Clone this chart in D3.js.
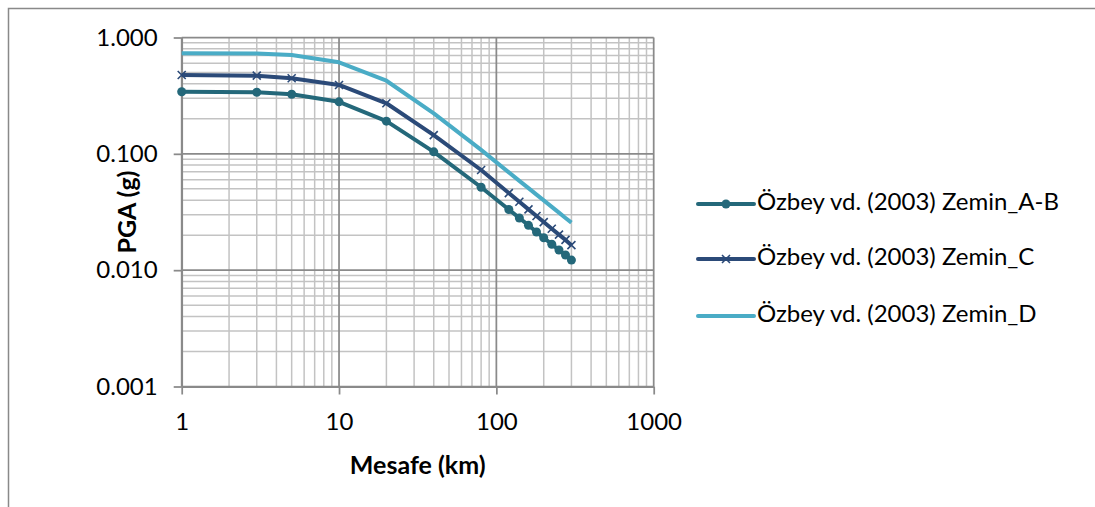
<!DOCTYPE html>
<html>
<head>
<meta charset="utf-8">
<script src="https://cdn.jsdelivr.net/npm/d3@7"></script>
<style>
  body { margin: 0; background: #fff; }
  svg text { font-family: Lato, "Open Sans", sans-serif; fill: #000; }
</style>
</head>
<body>
<div id="chart"></div>
<script>
// distances (km) and PGA (g)
const distances = [1, 3, 5, 10, 20, 40, 80, 120, 140, 160, 180, 200, 225, 250, 275, 300];
const zeminAB = [0.342, 0.338, 0.325, 0.280, 0.191, 0.104, 0.0516, 0.0332, 0.0281, 0.0243, 0.0213, 0.0190, 0.0167, 0.0149, 0.0135, 0.0122];
const zeminC  = [0.476, 0.470, 0.446, 0.391, 0.272, 0.145, 0.0726, 0.0460, 0.0387, 0.0333, 0.0292, 0.0259, 0.0227, 0.0202, 0.0182, 0.0164];
const zeminD  = [0.731, 0.728, 0.707, 0.612, 0.425, 0.223, 0.108, 0.0693, 0.0586, 0.0507, 0.0446, 0.0398, 0.0350, 0.0312, 0.0281, 0.0256];
const seriesNames = ["Özbey vd. (2003) Zemin_A-B", "Özbey vd. (2003) Zemin_C", "Özbey vd. (2003) Zemin_D"];
const xTicks = [1, 10, 100, 1000];
const yTicks = [0.001, 0.01, 0.1, 1];

const width = 1095, height = 507;
const plot = { left: 181.7, right: 653.7, top: 37.5, bottom: 386.5 };

const svg = d3.select("#chart")
    .append("svg")
    .attr("width", width)
    .attr("height", height);

// chart frame (cut off at right and bottom like the original)
svg.append("path")
    .attr("d", `M8.5,${height + 5}V8.5H${width + 5}`)
    .attr("fill", "none")
    .attr("stroke", "#898989")
    .attr("stroke-width", 1.5);

const xScale = d3.scaleLog().domain([1, 1000]).range([plot.left, plot.right]);
const yScale = d3.scaleLog().domain([0.001, 1]).range([plot.bottom, plot.top]);

// minor grid values 2..9 for each decade
const xMinor = [], yMinor = [];
[1, 10, 100].forEach(d => { for (let k = 2; k <= 9; k++) xMinor.push(d * k); });
[0.001, 0.01, 0.1].forEach(d => { for (let k = 2; k <= 9; k++) yMinor.push(d * k); });

const grid = svg.append("g");
grid.selectAll(".xminor").data(xMinor).enter().append("line")
    .attr("x1", d => xScale(d)).attr("x2", d => xScale(d))
    .attr("y1", plot.top).attr("y2", plot.bottom)
    .attr("stroke", "#c3c3c3").attr("stroke-width", 1.5);
grid.selectAll(".yminor").data(yMinor).enter().append("line")
    .attr("y1", d => yScale(d)).attr("y2", d => yScale(d))
    .attr("x1", plot.left).attr("x2", plot.right)
    .attr("stroke", "#c3c3c3").attr("stroke-width", 1.5);
grid.selectAll(".xmajor").data(xTicks).enter().append("line")
    .attr("x1", d => xScale(d)).attr("x2", d => xScale(d))
    .attr("y1", plot.top).attr("y2", plot.bottom)
    .attr("stroke", "#8a8a8a").attr("stroke-width", 1.75);
grid.selectAll(".ymajor").data(yTicks).enter().append("line")
    .attr("y1", d => yScale(d)).attr("y2", d => yScale(d))
    .attr("x1", plot.left).attr("x2", plot.right)
    .attr("stroke", "#8a8a8a").attr("stroke-width", 1.75);

// axes
svg.append("g")
    .attr("transform", `translate(0, ${plot.bottom})`)
    .call(d3.axisBottom(xScale).tickValues(xTicks).tickFormat(d3.format("d")).tickSizeInner(8).tickSizeOuter(0).tickPadding(18));
svg.append("g")
    .attr("transform", `translate(${plot.left}, 0)`)
    .call(d3.axisLeft(yScale).tickValues(yTicks).tickFormat(d3.format(".3f")).tickSizeInner(8).tickSizeOuter(0).tickPadding(16));

svg.selectAll(".domain").attr("stroke", "#8a8a8a").attr("stroke-width", 1.75);
svg.selectAll(".tick line").attr("stroke", "#8a8a8a").attr("stroke-width", 1.75);
svg.selectAll(".tick text")
    .style("font-family", "Lato, sans-serif")
    .style("font-size", "24px")
    .attr("fill", "#000");

// axis titles
svg.append("text")
    .attr("transform", `translate(${(plot.left + plot.right) / 2}, 468)`)
    .attr("text-anchor", "middle")
    .attr("dominant-baseline", "middle")
    .style("font-size", "25px")
    .style("font-weight", "bold")
    .text("Mesafe (km)");

svg.append("text")
    .attr("transform", `translate(130, ${(plot.top + plot.bottom) / 2}) rotate(-90)`)
    .attr("text-anchor", "middle")
    .attr("dominant-baseline", "middle")
    .style("font-size", "25px")
    .style("font-weight", "bold")
    .text("PGA (g)");

// series
const colors = ["#24687a", "#2b4a78", "#4aacc6"];
const seriesValues = [zeminAB, zeminC, zeminD];
const line = d3.line()
    .x(d => xScale(d[0]))
    .y(d => yScale(d[1]));

// draw D first so darker lines sit on top
[2, 1, 0].forEach(i => {
    const pts = distances.map((x, j) => [x, seriesValues[i][j]]);
    svg.append("path")
        .datum(pts)
        .attr("fill", "none")
        .attr("stroke", colors[i])
        .attr("stroke-width", 4)
        .attr("stroke-linejoin", "round")
        .attr("d", line);

    if (i === 0) {
        svg.selectAll(".dotAB").data(pts).enter().append("circle")
            .attr("cx", d => xScale(d[0]))
            .attr("cy", d => yScale(d[1]))
            .attr("r", 4.5)
            .attr("fill", colors[0]);
    } else if (i === 1) {
        svg.selectAll(".crossC").data(pts).enter().append("path")
            .attr("transform", d => `translate(${xScale(d[0])}, ${yScale(d[1])})`)
            .attr("d", "M-4,-4L4,4M-4,4L4,-4")
            .attr("stroke", colors[1])
            .attr("stroke-width", 1.6);
    }
});

// legend
const legendY = [204, 259, 316];
seriesNames.forEach((name, i) => {
    const g = svg.append("g").attr("transform", `translate(698, ${legendY[i]})`);
    g.append("line")
        .attr("x1", 0).attr("x2", 56)
        .attr("y1", 0).attr("y2", 0)
        .attr("stroke", colors[i])
        .attr("stroke-width", 4)
        .attr("stroke-linecap", "round");
    if (i === 0) {
        g.append("circle").attr("cx", 28).attr("cy", 0).attr("r", 4.5).attr("fill", colors[0]);
    } else if (i === 1) {
        g.append("path").attr("d", "M24,-4L32,4M24,4L32,-4")
            .attr("stroke", colors[1]).attr("stroke-width", 1.6);
    }
    g.append("text")
        .attr("x", 59)
        .attr("y", 0)
        .attr("dominant-baseline", "middle")
        .style("font-size", "24px")
        .text(name);
});
</script>
</body>
</html>
